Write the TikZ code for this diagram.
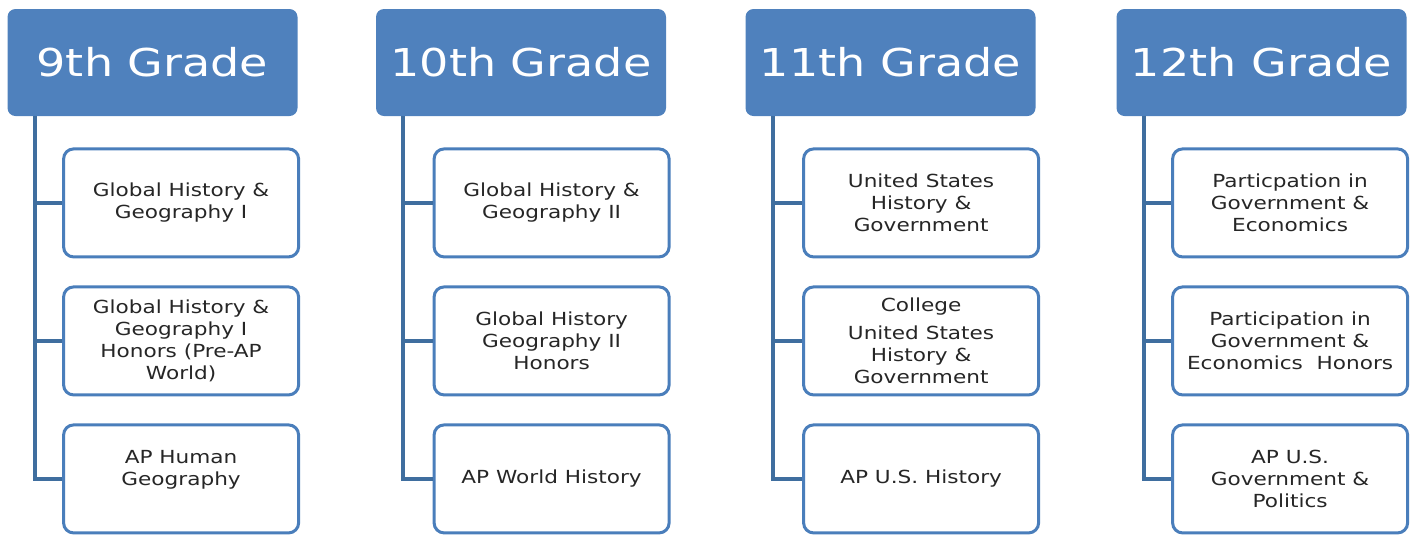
\documentclass[tikz,border=0pt]{standalone}
\usepackage{fontspec}
\setmainfont{DejaVu Sans}[FakeStretch=1.2]
\usetikzlibrary{positioning}
\definecolor{gradeblue}{HTML}{4F81BD}
\definecolor{edgeblue}{HTML}{4A7EBB}
\definecolor{treeblue}{HTML}{3F6E9F}
\tikzset{
	grade/.style={rectangle, rounded corners=4pt, fill=gradeblue, text=white,
		font=\fontsize{19.2}{23}\selectfont, minimum width=145pt, minimum height=53.5pt, inner sep=0pt},
	course/.style={rectangle, rounded corners=5pt, draw=edgeblue, line width=1.5pt, fill=white,
		text=black!85, align=center, font=\fontsize{9}{11}\selectfont,
		minimum width=117.5pt, minimum height=54pt, inner sep=0pt},
	tree/.style={draw=treeblue, line width=2pt}
}

\begin{document}
\begin{tikzpicture}[x=0.5pt, y=-0.5pt, node distance=13.5pt]
			\useasboundingbox (0,0) rectangle (1413,537);
			% grade headers
			\node[grade] (g9)  at (152.5,62.5) {9th Grade};
			\node[grade] (g10) at (521,62.5)   {10th Grade};
			\node[grade] (g11) at (890.5,62.5) {11th Grade};
			\node[grade] (g12) at (1261.5,62.5) {12th Grade};
			% courses
			\node[course, below right=15.5pt and 27.5pt of g9.south west] (g9-a) {Global History \&\\Geography I};
			\node[course, below=of g9-a] (g9-b) {Global History \&\\Geography I\\Honors (Pre-AP\\World)};
			\node[course, below=of g9-b] (g9-c) {AP Human\\Geography\\\mbox{}};
			\node[course, below right=15.5pt and 28.5pt of g10.south west] (g10-a) {Global History \&\\Geography II};
			\node[course, below=of g10-a] (g10-b) {Global History\\Geography II\\Honors};
			\node[course, below=of g10-b] (g10-c) {AP World History};
			\node[course, below right=15.5pt and 28.5pt of g11.south west] (g11-a) {United States\\History \&\\Government};
			\node[course, below=of g11-a] (g11-b) {College\\[3pt]United States\\History \&\\Government};
			\node[course, below=of g11-b] (g11-c) {AP U.S. History};
			\node[course, below right=15.5pt and 27.5pt of g12.south west] (g12-a) {Particpation in\\Government \&\\Economics};
			\node[course, below=of g12-a] (g12-b) {Participation in\\Government \&\\Economics\ \ Honors};
			\node[course, below=of g12-b] (g12-c) {AP U.S.\\Government \&\\Politics};
			% tree lines
			\foreach \g in {9,10,11,12} {
				\coordinate (t\g) at ([xshift=13.75pt]g\g.south west);
				\foreach \c in {a,b,c}
					\draw[tree] (t\g) |- (g\g-\c.west);
			}
\end{tikzpicture}
\end{document}
